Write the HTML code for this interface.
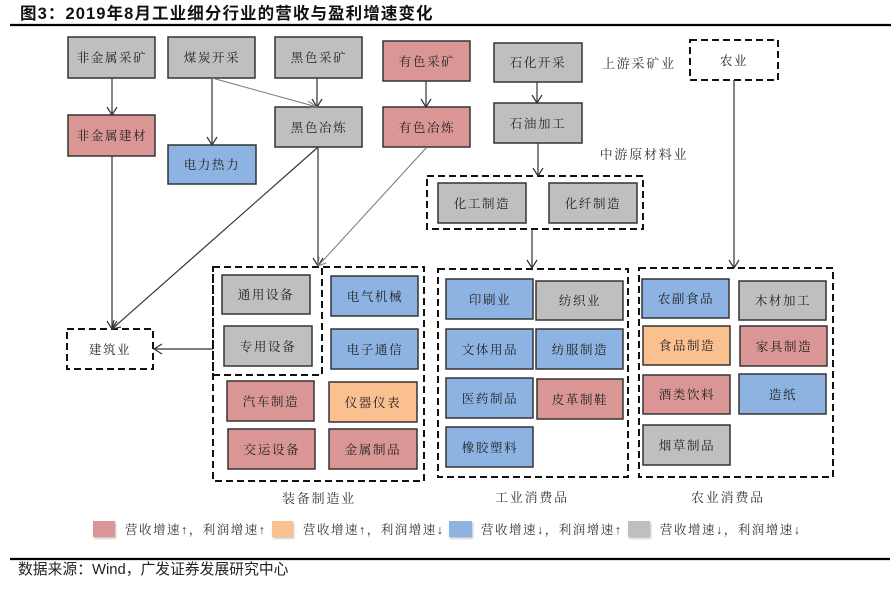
<!DOCTYPE html>
<html><head><meta charset="utf-8">
<style>
html,body{margin:0;padding:0;background:#fff;}
svg{display:block;}
.bt{font-family:"Liberation Serif","Noto Serif CJK SC",serif;font-size:12.5px;fill:#222;letter-spacing:1.6px;}
.lb{font-family:"Liberation Serif","Noto Serif CJK SC",serif;font-size:13px;fill:#333;letter-spacing:1.8px;}
.lg{font-family:"Liberation Serif","Noto Serif CJK SC",serif;font-size:12.5px;fill:#333;letter-spacing:1.5px;}
</style></head>
<body>
<svg width="896" height="589" viewBox="0 0 896 589" xmlns="http://www.w3.org/2000/svg">
<defs>
<filter id="sh" x="-20%" y="-20%" width="150%" height="160%"><feDropShadow dx="1" dy="1.5" stdDeviation="1" flood-color="#000" flood-opacity="0.25"/></filter>
</defs>
<text x="20" y="19" font-family="Liberation Sans,'Noto Sans CJK SC',sans-serif" font-weight="bold" font-size="16.5" fill="#111" letter-spacing="1.1">图3：2019年8月工业细分行业的营收与盈利增速变化</text>
<line x1="10" y1="25" x2="891" y2="25" stroke="#000" stroke-width="2.2"/>

<g stroke="#333" stroke-width="1.5">
<!-- gray -->
<rect x="68" y="37" width="87" height="41" fill="#bfbfbf"/>
<rect x="168" y="37" width="87" height="41" fill="#bfbfbf"/>
<rect x="275" y="37" width="87" height="41" fill="#bfbfbf"/>
<rect x="494" y="43" width="88" height="39" fill="#bfbfbf"/>
<rect x="275" y="107" width="87" height="40" fill="#bfbfbf"/>
<rect x="494" y="103" width="88" height="40" fill="#bfbfbf"/>
<rect x="438" y="183" width="88" height="40" fill="#bfbfbf"/>
<rect x="549" y="183" width="88" height="40" fill="#bfbfbf"/>
<rect x="222" y="275" width="88" height="39" fill="#bfbfbf"/>
<rect x="224" y="326" width="88" height="40" fill="#bfbfbf"/>
<rect x="536" y="281" width="87" height="39" fill="#bfbfbf"/>
<rect x="739" y="281" width="87" height="39" fill="#bfbfbf"/>
<rect x="643" y="425" width="87" height="40" fill="#bfbfbf"/>
<!-- pink -->
<rect x="383" y="41" width="87" height="40" fill="#d99694"/>
<rect x="68" y="115" width="87" height="41" fill="#d99694"/>
<rect x="383" y="107" width="87" height="40" fill="#d99694"/>
<rect x="227" y="381" width="87" height="40" fill="#d99694"/>
<rect x="228" y="429" width="87" height="40" fill="#d99694"/>
<rect x="329" y="429" width="88" height="40" fill="#d99694"/>
<rect x="537" y="379" width="86" height="40" fill="#d99694"/>
<rect x="740" y="326" width="87" height="40" fill="#d99694"/>
<rect x="643" y="375" width="87" height="39" fill="#d99694"/>
<!-- blue -->
<rect x="168" y="145" width="88" height="39" fill="#8db3e2"/>
<rect x="331" y="276" width="87" height="40" fill="#8db3e2"/>
<rect x="331" y="329" width="87" height="40" fill="#8db3e2"/>
<rect x="446" y="279" width="87" height="40" fill="#8db3e2"/>
<rect x="446" y="329" width="87" height="40" fill="#8db3e2"/>
<rect x="536" y="329" width="87" height="40" fill="#8db3e2"/>
<rect x="446" y="378" width="87" height="40" fill="#8db3e2"/>
<rect x="446" y="427" width="87" height="40" fill="#8db3e2"/>
<rect x="642" y="279" width="87" height="39" fill="#8db3e2"/>
<rect x="739" y="374" width="87" height="40" fill="#8db3e2"/>
<!-- orange -->
<rect x="329" y="382" width="88" height="40" fill="#fac090"/>
<rect x="643" y="326" width="87" height="39" fill="#fac090"/>
</g>

<!-- dashed -->
<g fill="none" stroke="#111" stroke-width="2" stroke-dasharray="7,4">
<rect x="690" y="40" width="88" height="40"/>
<rect x="67" y="329" width="86" height="40"/>
<rect x="427" y="176" width="216" height="53"/>
<rect x="213" y="267" width="211" height="214"/>
<rect x="213" y="267" width="109" height="108"/>
<rect x="438" y="269" width="190" height="208"/>
<rect x="639" y="268" width="194" height="209"/>
</g>

<!-- connectors -->
<g fill="none" stroke="#333" stroke-width="1.2">
<line x1="112" y1="78" x2="112" y2="115"/><polyline points="107,107 112,115 117,107"/>
<line x1="212" y1="78" x2="212" y2="145"/><polyline points="207,137 212,145 217,137"/>
<line x1="317" y1="78" x2="317" y2="107"/><polyline points="312,99 317,107 322,99"/>
<line x1="426" y1="81" x2="426" y2="107"/><polyline points="421,99 426,107 431,99"/>
<line x1="537" y1="82" x2="537" y2="103"/><polyline points="532,95 537,103 542,95"/>
<line x1="538" y1="143" x2="538" y2="176"/><polyline points="533,168 538,176 543,168"/>
<line x1="734" y1="80" x2="734" y2="268"/><polyline points="729,260 734,268 739,260"/>
<line x1="532" y1="229" x2="532" y2="268"/><polyline points="527,260 532,268 537,260"/>
<line x1="318" y1="147" x2="318" y2="266"/><polyline points="313,258 318,266 323,258"/>
<line x1="112" y1="156" x2="112" y2="329"/><polyline points="107,321 112,329 117,321"/>
<line x1="317" y1="148" x2="112" y2="329"/><polyline points="114,320 112,329 121,327"/>
<line x1="213" y1="349" x2="154" y2="349"/><polyline points="162,344 154,349 162,354"/>
</g>
<g fill="none" stroke="#777" stroke-width="1">
<line x1="212" y1="78" x2="317" y2="107"/><polyline points="308,101 317,107 306,108"/>
<line x1="427" y1="147" x2="318" y2="266"/><polyline points="319,257 318,266 326,263"/>
</g>

<!-- box text -->
<g class="bt" text-anchor="middle">
<text x="112" y="62">非金属采矿</text>
<text x="212" y="62">煤炭开采</text>
<text x="319" y="62">黑色采矿</text>
<text x="427" y="66">有色采矿</text>
<text x="538" y="67">石化开采</text>
<text x="734" y="65">农业</text>
<text x="112" y="140">非金属建材</text>
<text x="212" y="169">电力热力</text>
<text x="319" y="132">黑色冶炼</text>
<text x="427" y="132">有色冶炼</text>
<text x="538" y="128">石油加工</text>
<text x="482" y="208">化工制造</text>
<text x="593" y="208">化纤制造</text>
<text x="266" y="299">通用设备</text>
<text x="268" y="351">专用设备</text>
<text x="375" y="301">电气机械</text>
<text x="375" y="354">电子通信</text>
<text x="271" y="406">汽车制造</text>
<text x="373" y="407">仪器仪表</text>
<text x="272" y="454">交运设备</text>
<text x="373" y="454">金属制品</text>
<text x="110" y="354">建筑业</text>
<text x="490" y="304">印刷业</text>
<text x="580" y="305">纺织业</text>
<text x="490" y="354">文体用品</text>
<text x="580" y="354">纺服制造</text>
<text x="490" y="403">医药制品</text>
<text x="580" y="404">皮革制鞋</text>
<text x="490" y="452">橡胶塑料</text>
<text x="686" y="303">农副食品</text>
<text x="783" y="305">木材加工</text>
<text x="687" y="350">食品制造</text>
<text x="784" y="351">家具制造</text>
<text x="687" y="399">酒类饮料</text>
<text x="783" y="399">造纸</text>
<text x="687" y="450">烟草制品</text>
</g>

<!-- labels -->
<g class="lb" text-anchor="middle">
<text x="639" y="68">上游采矿业</text>
<text x="644" y="159">中游原材料业</text>
<text x="319" y="503">装备制造业</text>
<text x="532" y="502">工业消费品</text>
<text x="728" y="502">农业消费品</text>
</g>

<!-- legend -->
<g filter="url(#sh)">
<rect x="93" y="521" width="22" height="16" fill="#d99694"/>
<rect x="272" y="521" width="21" height="16" fill="#fac090"/>
<rect x="449" y="521" width="23" height="16" fill="#8db3e2"/>
<rect x="628" y="521" width="22" height="16" fill="#bfbfbf"/>
</g>
<g class="lg">
<text x="125" y="534">营收增速↑，利润增速↑</text>
<text x="303" y="534">营收增速↑，利润增速↓</text>
<text x="481" y="534">营收增速↓，利润增速↑</text>
<text x="660" y="534">营收增速↓，利润增速↓</text>
</g>

<line x1="10" y1="559" x2="890" y2="559" stroke="#000" stroke-width="2.2"/>
<text x="18" y="574" font-family="Liberation Sans,'Noto Sans CJK SC',sans-serif" font-size="14.8" fill="#222">数据来源：Wind，广发证券发展研究中心</text>
</svg>
</body></html>
